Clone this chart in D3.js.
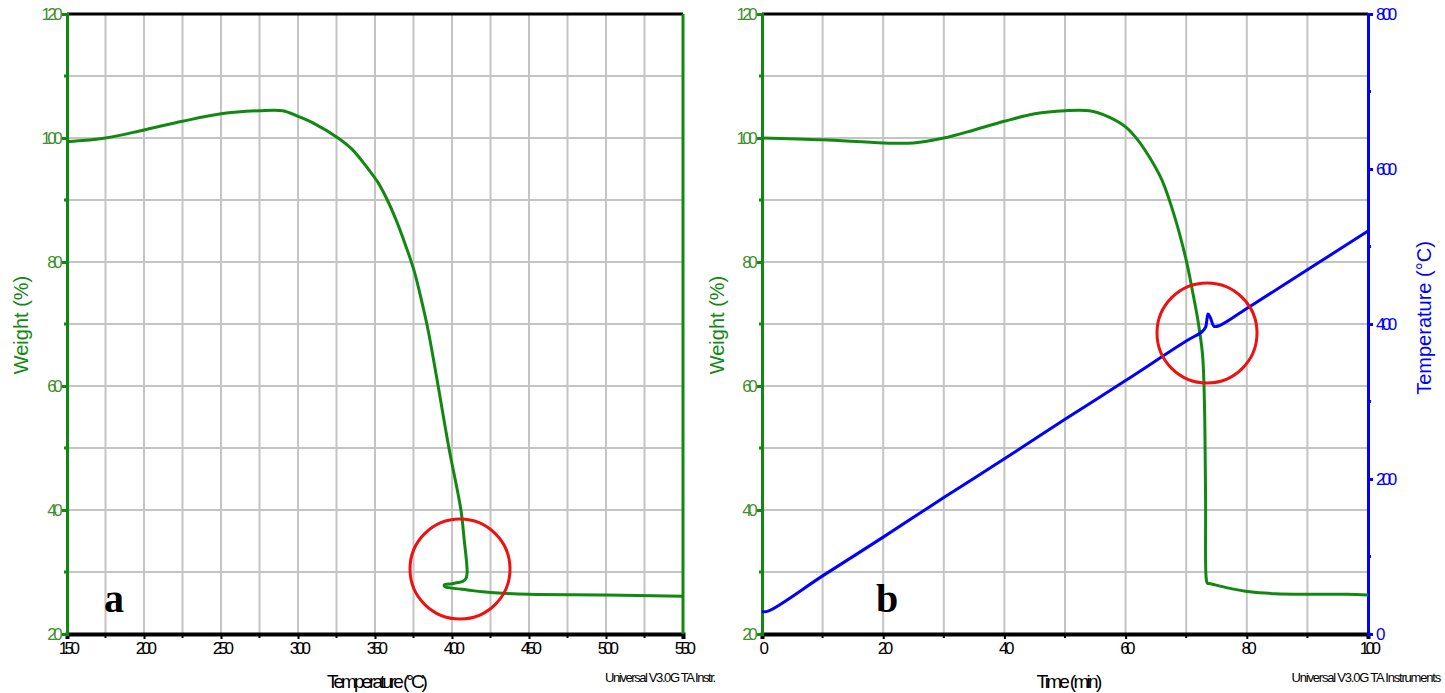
<!DOCTYPE html>
<html>
<head>
<meta charset="utf-8">
<script src="https://cdn.jsdelivr.net/npm/d3@7"></script>
<style>
  body { margin: 0; background: #fff; }
  svg { display: block; font-family: "Liberation Sans", Arial, sans-serif; }
  .tick text { font-size: 17px; letter-spacing: -3.6px; }
</style>
</head>
<body>
<svg id="chart" width="1445" height="693"></svg>
<script>
// panel a: weight vs temperature
const aTemp = [150, 175, 200, 225, 250, 275, 290, 300, 310, 326, 335, 345, 352, 358, 364, 370, 375.5, 380.5, 384.5, 391, 398, 405.8, 408, 409.5, 409.8, 409, 407, 404, 400, 395, 395.5, 400, 410, 420, 430, 450, 500, 550];
const aWeight = [99.4, 100, 101.3, 102.7, 103.9, 104.4, 104.4, 103.5, 102.4, 100, 98.2, 95.2, 92.8, 90, 86.6, 82.6, 78.5, 73.5, 69, 60, 50, 40, 35, 31.5, 29.8, 28.9, 28.5, 28.3, 28.1, 27.9, 27.6, 27.4, 27.1, 26.8, 26.6, 26.4, 26.3, 26.1];

// panel b: weight and temperature vs time
const bTime = [0, 10, 20, 25, 30, 35, 40, 45, 50, 54, 57, 60, 62, 64, 66, 68, 70, 71, 72, 72.7, 73, 73.2, 73.3, 73.5, 74, 77, 80.5, 84.7, 90, 96.5, 100];
const bWeight = [100, 99.7, 99.2, 99.2, 100, 101.3, 102.7, 103.9, 104.4, 104.4, 103.5, 101.8, 99.7, 96.8, 93.2, 87.6, 80.3, 75.5, 70.2, 65, 57.7, 41.6, 29, 28.2, 28.1, 27.4, 26.8, 26.5, 26.4, 26.4, 26.3];
const bTempTime = [0, 1, 10, 20, 30, 40, 50, 60, 70, 72.6, 73.2, 73.6, 74, 74.6, 75.5, 80, 90, 100];
const bTemp = [29, 29.5, 75, 125, 176, 226, 277, 327, 378, 390, 396, 413, 408, 397, 398, 420, 470, 520];

const weightTicks = [20, 40, 60, 80, 100, 120];
const tempTicksA = [150, 200, 250, 300, 350, 400, 450, 500, 550];
const timeTicks = [0, 20, 40, 60, 80, 100];
const tempTicksB = [0, 200, 400, 600, 800];

const svg = d3.select("#chart");
const green = "#118811";
const labelGreen = "#3f8f2f";
const blue = "#0000ff";
const plotTop = 14, plotBottom = 634;

const yW = d3.scaleLinear().domain([20, 120]).range([plotBottom, plotTop]);
const smooth = d3.curveCatmullRom.alpha(0.5);

function range(a, b, s) {
  return d3.range(a, b + s / 2, s);
}

function panel(x0, x1, xDomain, xStep, xTicks) {
  const g = svg.append("g");
  const x = d3.scaleLinear().domain(xDomain).range([x0, x1]);

  // grid
  g.append("g")
    .selectAll("line")
    .data(range(xDomain[0] + xStep, xDomain[1] - xStep, xStep))
    .join("line")
    .attr("x1", x).attr("x2", x)
    .attr("y1", plotTop).attr("y2", plotBottom)
    .attr("stroke", "#c4c4c4").attr("stroke-width", 2);
  g.append("g")
    .selectAll("line")
    .data(range(30, 110, 10))
    .join("line")
    .attr("x1", x0).attr("x2", x1)
    .attr("y1", yW).attr("y2", yW)
    .attr("stroke", "#c4c4c4").attr("stroke-width", 2);

  // bottom axis
  const xAxis = g.append("g")
    .attr("transform", `translate(0,${plotBottom})`)
    .call(d3.axisBottom(x).tickValues(xTicks).tickSize(5).tickPadding(3).tickFormat(d3.format("d")));
  xAxis.select(".domain").attr("stroke", "#000").attr("stroke-width", 4);
  xAxis.selectAll(".tick line").attr("stroke", "#000").attr("stroke-width", 2);
  xAxis.selectAll(".tick text").attr("fill", "#000");
  g.append("g")
    .selectAll("line")
    .data(range(xDomain[0] + xStep, xDomain[1], xStep * 2))
    .join("line")
    .attr("x1", x).attr("x2", x)
    .attr("y1", plotBottom).attr("y2", plotBottom + 4)
    .attr("stroke", "#000").attr("stroke-width", 2);

  // top border
  g.append("line")
    .attr("x1", x0).attr("x2", x1).attr("y1", plotTop).attr("y2", plotTop)
    .attr("stroke", "#000").attr("stroke-width", 3);

  // left weight axis
  const yAxis = g.append("g")
    .attr("transform", `translate(${x0},0)`)
    .call(d3.axisLeft(yW).tickValues(weightTicks).tickSize(5).tickPadding(3));
  yAxis.select(".domain").attr("stroke", green).attr("stroke-width", 3);
  yAxis.selectAll(".tick line").attr("stroke", green).attr("stroke-width", 3);
  yAxis.selectAll(".tick text").attr("fill", labelGreen);
  g.append("g")
    .selectAll("line")
    .data(range(30, 110, 20))
    .join("line")
    .attr("x1", x0 - 3).attr("x2", x0)
    .attr("y1", yW).attr("y2", yW)
    .attr("stroke", green).attr("stroke-width", 3);

  return { g, x };
}

function sideLabel(cx, cy, color, t) {
  svg.append("text")
    .attr("transform", `translate(${cx},${cy}) rotate(-90)`)
    .attr("text-anchor", "middle")
    .attr("dominant-baseline", "middle")
    .attr("fill", color)
    .attr("font-size", 20)
    .text(t);
}

function circle(cx, cy) {
  svg.append("circle")
    .attr("cx", cx).attr("cy", cy).attr("r", 50)
    .attr("fill", "none").attr("stroke", "#ee1111").attr("stroke-width", 3);
}

function bigLetter(x, t) {
  svg.append("text")
    .attr("x", x).attr("y", 612)
    .attr("font-family", "'Liberation Serif', 'DejaVu Serif', serif")
    .attr("font-weight", "bold").attr("font-size", 40)
    .text(t);
}

function smallText(x, y, size, spacing, anchor, t) {
  svg.append("text")
    .attr("x", x).attr("y", y)
    .attr("text-anchor", anchor)
    .attr("font-size", size).attr("letter-spacing", spacing)
    .text(t);
}

// ---- panel a ----
const A = panel(67, 683, [150, 550], 25, tempTicksA);
A.g.append("line")
  .attr("x1", 683).attr("x2", 683).attr("y1", plotTop).attr("y2", plotBottom)
  .attr("stroke", green).attr("stroke-width", 3);
A.g.append("path")
  .datum(d3.zip(aTemp, aWeight))
  .attr("fill", "none").attr("stroke", green).attr("stroke-width", 3)
  .attr("stroke-linejoin", "round")
  .attr("d", d3.line().x(d => A.x(d[0])).y(d => yW(d[1])).curve(smooth));
sideLabel(23, 325, green, "Weight (%)");
bigLetter(104, "a");
circle(460, 569);
smallText(376, 688, 19, -3, "middle", "Temperature (°C)");
smallText(605, 682, 13, -1.4, "start", "Universal V3.0G TA Instr.");

// ---- panel b ----
const B = panel(762, 1368, [0, 100], 10, timeTicks);
const yT = d3.scaleLinear().domain([0, 800]).range([plotBottom, plotTop]);
const rAxis = B.g.append("g")
  .attr("transform", "translate(1368,0)")
  .call(d3.axisRight(yT).tickValues(tempTicksB).tickSize(5).tickPadding(3));
rAxis.select(".domain").attr("stroke", blue).attr("stroke-width", 3);
rAxis.selectAll(".tick line").attr("stroke", blue).attr("stroke-width", 3);
rAxis.selectAll(".tick text").attr("fill", blue);
B.g.append("g")
  .selectAll("line")
  .data(range(100, 700, 200))
  .join("line")
  .attr("x1", 1368).attr("x2", 1371)
  .attr("y1", yT).attr("y2", yT)
  .attr("stroke", blue).attr("stroke-width", 3);

B.g.append("path")
  .datum(d3.zip(bTime, bWeight))
  .attr("fill", "none").attr("stroke", green).attr("stroke-width", 3)
  .attr("stroke-linejoin", "round")
  .attr("d", d3.line().x(d => B.x(d[0])).y(d => yW(d[1])).curve(smooth));
B.g.append("path")
  .datum(d3.zip(bTempTime, bTemp))
  .attr("fill", "none").attr("stroke", blue).attr("stroke-width", 3)
  .attr("stroke-linejoin", "round")
  .attr("d", d3.line().x(d => B.x(d[0])).y(d => yT(d[1])).curve(smooth));

sideLabel(719, 325, green, "Weight (%)");
sideLabel(1426, 318, blue, "Temperature (°C)");
bigLetter(876, "b");
circle(1207, 333);
smallText(1068, 688, 19, -2.7, "middle", "Time (min)");
smallText(1440, 682, 13, -1.2, "end", "Universal V3.0G TA Instruments");
</script>
</body>
</html>
